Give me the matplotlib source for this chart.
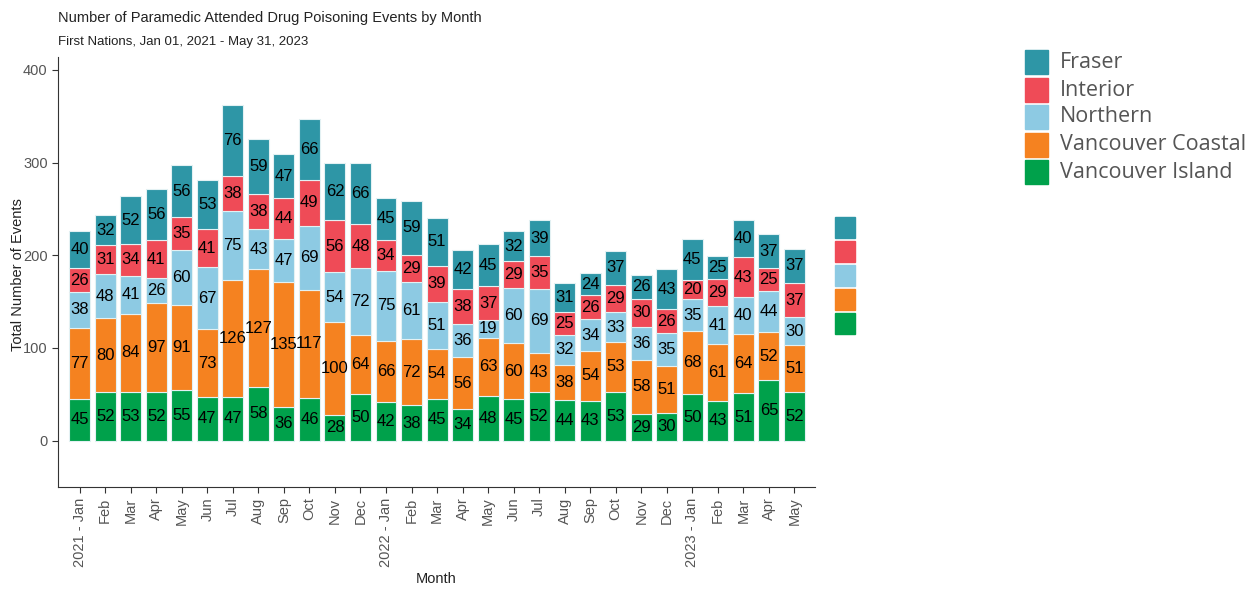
import matplotlib.pyplot as plt
import matplotlib.patches as mpatches
import numpy as np

plt.rcParams['font.family'] = ['Liberation Sans', 'DejaVu Sans']

# Data (Jan 2021 - May 2023)
months = ['2021 - Jan', 'Feb', 'Mar', 'Apr', 'May', 'Jun', 'Jul', 'Aug', 'Sep', 'Oct', 'Nov', 'Dec',
          '2022 - Jan', 'Feb', 'Mar', 'Apr', 'May', 'Jun', 'Jul', 'Aug', 'Sep', 'Oct', 'Nov', 'Dec',
          '2023 - Jan', 'Feb', 'Mar', 'Apr', 'May']
vancouver_island = [45, 52, 53, 52, 55, 47, 47, 58, 36, 46, 28, 50,
                    42, 38, 45, 34, 48, 45, 52, 44, 43, 53, 29, 30,
                    50, 43, 51, 65, 52]
vancouver_coastal = [77, 80, 84, 97, 91, 73, 126, 127, 135, 117, 100, 64,
                     66, 72, 54, 56, 63, 60, 43, 38, 54, 53, 58, 51,
                     68, 61, 64, 52, 51]
northern = [38, 48, 41, 26, 60, 67, 75, 43, 47, 69, 54, 72,
            75, 61, 51, 36, 19, 60, 69, 32, 34, 33, 36, 35,
            35, 41, 40, 44, 30]
interior = [26, 31, 34, 41, 35, 41, 38, 38, 44, 49, 56, 48,
            34, 29, 39, 38, 37, 29, 35, 25, 26, 29, 30, 26,
            20, 29, 43, 25, 37]
fraser = [40, 32, 52, 56, 56, 53, 76, 59, 47, 66, 62, 66,
          45, 59, 51, 42, 45, 32, 39, 31, 24, 37, 26, 43,
          45, 25, 40, 37, 37]

series = [
    ('Vancouver Island', vancouver_island, '#00A14B'),
    ('Vancouver Coastal', vancouver_coastal, '#F58220'),
    ('Northern', northern, '#8DCAE3'),
    ('Interior', interior, '#EF4B57'),
    ('Fraser', fraser, '#2E96A6'),
]

fig = plt.figure(figsize=(12.53, 5.90), dpi=100)
ax = fig.add_axes([0.0463, 0.1746, 0.6040, 0.7288])

x = np.arange(len(months))
bottom = np.zeros(len(months))
for name, vals, color in series:
    vals = np.array(vals)
    ax.bar(x, vals, bottom=bottom, width=0.82, color=color,
           edgecolor='#e3f1f3', linewidth=0.8, label=name)
    for xi, b, v in zip(x, bottom, vals):
        ax.text(xi, b + v / 2, str(v), ha='center', va='center',
                fontsize=12, color='black')
    bottom += vals

ax.set_xlim(-0.85, 28.8)
ax.set_ylim(-50, 414)
ax.set_yticks([0, 100, 200, 300, 400])
ax.set_xticks(x)
ax.set_xticklabels(months, rotation=90, fontsize=10.5, color='#555555')
ax.tick_params(axis='y', labelsize=10.5, labelcolor='#555555', color='#333333', length=4)
ax.tick_params(axis='x', color='#333333', length=4)
for side in ['top', 'right']:
    ax.spines[side].set_visible(False)
for side in ['left', 'bottom']:
    ax.spines[side].set_color('#333333')

ax.set_xlabel('Month', fontsize=10.5, color='#222222', labelpad=4)

W, H = 1253, 590
fig.text(18 / W, 1 - 275 / H, 'Total Number of Events', rotation=90,
         fontsize=10.5, color='#222222', va='center', ha='center')

fig.text(58 / W, 1 - 18 / H, 'Number of Paramedic Attended Drug Poisoning Events by Month',
         fontsize=10.5, color='#222222', va='center', ha='left')
fig.text(58 / W, 1 - 42 / H, 'First Nations, Jan 01, 2021 - May 31, 2023',
         fontsize=9.5, color='#222222', va='center', ha='left')

# Main legend (top right)
legend_rows = [('Fraser', '#2E96A6', 62), ('Interior', '#EF4B57', 90),
               ('Northern', '#8DCAE3', 117), ('Vancouver Coastal', '#F58220', 145),
               ('Vancouver Island', '#00A14B', 172)]
for name, color, yc in legend_rows:
    fig.add_artist(mpatches.Rectangle((1025 / W, 1 - (yc + 12) / H), 23 / W, 24 / H,
                                      transform=fig.transFigure, color=color))
    fig.text(1060 / W, 1 - yc / H, name, fontsize=15.5, color='#555555',
             va='center', ha='left', family=['Open Sans', 'DejaVu Sans'])

# Small colour-only key
for i, color in enumerate(['#2E96A6', '#EF4B57', '#8DCAE3', '#F58220', '#00A14B']):
    top = 217 + i * 24
    fig.add_artist(mpatches.Rectangle((835 / W, 1 - (top + 21) / H), 20 / W, 21 / H,
                                      transform=fig.transFigure, color=color))

plt.savefig('out.png', dpi=100)
plt.close()
